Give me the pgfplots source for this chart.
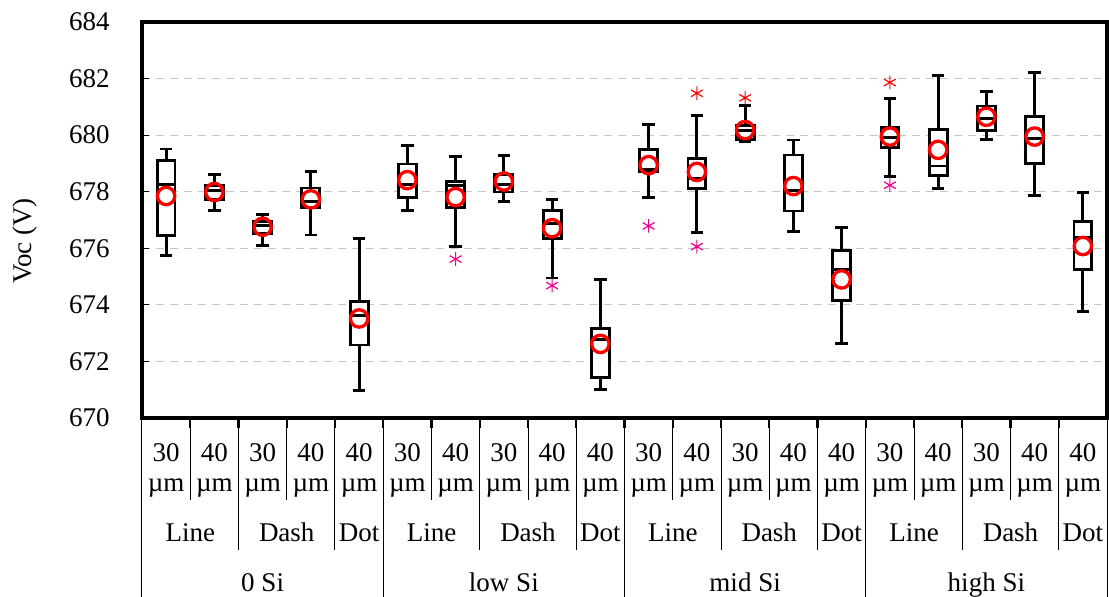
\documentclass[border=0pt]{standalone}
\usepackage{fontspec}
\setmainfont{Liberation Serif}
\usepackage{pgfplots}
\usepackage{pgfplotstable}
\pgfplotsset{compat=1.18}
\pgfplotstableread{
x lw q1 med q3 uw
0 675.76 676.44 678.27 679.09 679.51
1 677.33 677.74 678.03 678.21 678.60
2 676.11 676.53 676.80 676.95 677.21
3 676.47 677.43 677.65 678.13 678.73
4 670.96 672.58 673.61 674.11 676.36
5 677.35 677.81 678.25 678.98 679.63
6 676.06 677.45 678.21 678.37 679.23
7 677.65 677.99 678.25 678.60 679.29
8 674.95 676.36 676.87 677.33 677.72
9 671.02 671.44 672.79 673.18 674.90
10 677.81 678.70 678.80 679.48 680.38
11 676.57 678.11 678.46 679.17 680.71
12 679.78 679.86 680.15 680.33 681.05
13 676.60 677.32 678.04 679.30 679.83
14 672.64 674.15 675.26 675.92 676.72
15 678.54 679.57 679.92 680.26 681.28
16 678.12 678.56 678.91 680.21 682.10
17 679.86 680.18 680.58 681.03 681.54
18 677.88 678.99 679.89 680.65 682.22
19 673.78 675.26 676.39 676.95 677.96
}\bdata
\newcommand{\lab}[3]{\node[font=\fontsize{13.5}{16}\selectfont, anchor=base, yshift=#3] at (axis cs:#1,670) {#2};}
\pgfplotsset{
  vbar/.style={forget plot, draw=none, mark=none,
    error bars/y dir=#1, error bars/y explicit, error bars/error mark=none,
    error bars/error bar style={draw=black, solid, line width=1.45pt, line cap=rect}},
  hbar/.style={forget plot, draw=none, mark=none,
    error bars/x dir=both, error bars/x explicit, error bars/error mark=none,
    error bars/error bar style={draw=black, solid, line width=1.45pt, line cap=rect}},
}
\begin{document}
\begin{tikzpicture}
\begin{axis}[
  name=ax,
  scale only axis, width=482.5pt, height=198pt,
  xmin=-0.5, xmax=19.5, ymin=670, ymax=684,
  ytick={670,672,674,676,678,680,682,684},
  xtick=\empty,
  ytick pos=left, ytick style={black, line width=0.6pt},
  major tick length=3.5pt, tick align=inside,
  ymajorgrids, grid style={gray!45, dash pattern=on 4pt off 3pt, line width=0.6pt},
  axis line style={line width=2pt},
  /pgf/number format/assume math mode=true,
  yticklabel style={font=\fontsize{13.5}{16}\selectfont, anchor=east, inner sep=0pt, xshift=-16pt},
  clip mode=individual,
]
% white box fill
\addplot[forget plot, draw=none, mark=none, error bars/y dir=plus, error bars/y explicit, error bars/error mark=none,
  error bars/error bar style={draw=white, solid, line width=8.9pt, line cap=butt}]
  table[x=x, y=q1, y error plus expr=\thisrow{q3}-\thisrow{q1}] {\bdata};
% whiskers
\addplot[vbar=plus] table[x=x, y=q3, y error plus expr=\thisrow{uw}-\thisrow{q3}] {\bdata};
\addplot[vbar=minus] table[x=x, y=q1, y error minus expr=\thisrow{q1}-\thisrow{lw}] {\bdata};
% whisker caps
\addplot[hbar] table[x=x, y=uw, x error expr=0.1] {\bdata};
\addplot[hbar] table[x=x, y=lw, x error expr=0.1] {\bdata};
% box sides
\addplot[vbar=plus] table[x expr=\thisrow{x}-0.185, y=q1, y error plus expr=\thisrow{q3}-\thisrow{q1}] {\bdata};
\addplot[vbar=plus] table[x expr=\thisrow{x}+0.185, y=q1, y error plus expr=\thisrow{q3}-\thisrow{q1}] {\bdata};
% box bottom, top, median
\addplot[hbar] table[x=x, y=q1, x error expr=0.185] {\bdata};
\addplot[hbar] table[x=x, y=q3, x error expr=0.185] {\bdata};
\addplot[hbar] table[x=x, y=med, x error expr=0.185] {\bdata};
% outliers
\addplot[only marks, mark=asterisk, mark size=3.4pt, magenta, mark options={line width=0.6pt}] coordinates {
(6,675.62) (8,674.68) (10,676.79) (11,676.06) (15,678.23)};
\addplot[only marks, mark=asterisk, mark size=3.4pt, red, mark options={line width=0.6pt}] coordinates {
(11,681.48) (12,681.32) (15,681.86)};
% means
\addplot[only marks, mark=o, mark size=4.35pt, red, mark options={line width=1.65pt}] coordinates {
(0,677.85) (1,677.99) (2,676.76) (3,677.73) (4,673.52)
(5,678.41) (6,677.81) (7,678.36) (8,676.71) (9,672.62)
(10,678.94) (11,678.70) (12,680.18) (13,678.20) (14,674.90)
(15,679.95) (16,679.48) (17,680.65) (18,679.95) (19,676.08)};
% category separators
\pgfplotsinvokeforeach{0.5,2.5,5.5,7.5,10.5,12.5,15.5,17.5}{
  \draw[black, line width=0.5pt] (axis cs:#1,670) -- ++(0pt,-41pt);}
\pgfplotsinvokeforeach{1.5,3.5,6.5,8.5,11.5,13.5,16.5,18.5}{
  \draw[black, line width=0.5pt] (axis cs:#1,670) -- ++(0pt,-66pt);}
\pgfplotsinvokeforeach{-0.5,4.5,9.5,14.5,19.5}{
  \draw[black, line width=0.5pt] (axis cs:#1,670) -- ++(0pt,-90pt);}
\pgfplotsinvokeforeach{0.5,1.5,2.5,3.5,4.5,5.5,6.5,7.5,8.5,9.5,10.5,11.5,12.5,13.5,14.5,15.5,16.5,17.5,18.5}{
  \draw[black, line width=1.1pt] (axis cs:#1,670) -- ++(0pt,-5pt);}
% category labels
\pgfplotsinvokeforeach{0,2,5,7,10,12,15,17}{\lab{#1}{30}{-21.85pt}}
\pgfplotsinvokeforeach{1,3,4,6,8,9,11,13,14,16,18,19}{\lab{#1}{40}{-21.85pt}}
\pgfplotsinvokeforeach{0,1,2,3,4,5,6,7,8,9,10,11,12,13,14,15,16,17,18,19}{\lab{#1}{µm}{-36.5pt}}
\lab{0.5}{Line}{-61.85pt}\lab{2.5}{Dash}{-61.85pt}\lab{4}{Dot}{-61.85pt}
\lab{5.5}{Line}{-61.85pt}\lab{7.5}{Dash}{-61.85pt}\lab{9}{Dot}{-61.85pt}
\lab{10.5}{Line}{-61.85pt}\lab{12.5}{Dash}{-61.85pt}\lab{14}{Dot}{-61.85pt}
\lab{15.5}{Line}{-61.85pt}\lab{17.5}{Dash}{-61.85pt}\lab{19}{Dot}{-61.85pt}
\lab{2}{0 Si}{-86.85pt}\lab{7}{low Si}{-86.85pt}\lab{12}{mid Si}{-86.85pt}\lab{17}{high Si}{-86.85pt}
\node[font=\fontsize{13.5}{16}\selectfont, rotate=90] at (axis cs:-2.925,676.26) {Voc (V)};
\end{axis}
\pgfresetboundingbox
\path[use as bounding box] ([shift={(-71pt,-89pt)}]ax.south west) rectangle ([shift={(1pt,11pt)}]ax.north east);
\end{tikzpicture}
\end{document}
